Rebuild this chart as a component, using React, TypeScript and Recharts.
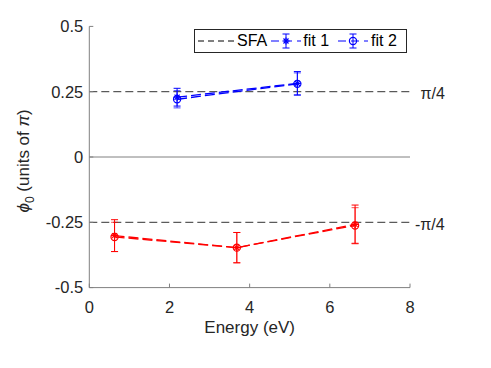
import React from 'react';
import {
  ComposedChart,
  Line,
  XAxis,
  YAxis,
  ErrorBar,
  ReferenceLine,
} from 'recharts';

/* ---------------------------------------
   DATA
---------------------------------------- */
// photon energy (eV)
const blueEnergy = [2.19, 5.19];
const redEnergy = [0.63, 3.68, 6.63];

// phi_0 (units of pi) and half-width of the error bars
const blueFit1 = [0.229, 0.282];
const blueFit1Err = [0.034, 0.045];
const blueFit2 = [0.221, 0.28];
const blueFit2Err = [0.033, 0.042];

const redFit1 = [-0.301, -0.347, -0.258];
const redFit1Err = [0.061, 0.058, 0.074];
const redFit2 = [-0.306, -0.347, -0.262];
const redFit2Err = [0.056, 0.058, 0.068];

// SFA reference values
const sfaLevels = [0.25, -0.25];
const sfaLabels = ['π/4', '-π/4'];

const xTicks = [0, 2, 4, 6, 8];
const yTicks = [-0.5, -0.25, 0, 0.25, 0.5];

const BLUE = '#0000ff';
const RED = '#ff0000';
const AXIS = '#808080';
const TEXT = '#262626';
const FONT = '"Liberation Sans", Arial, Helvetica, sans-serif';

const toRows = (xs: number[], ys: number[], errs: number[]) =>
  xs.map((e, i) => ({ e, phi: ys[i], err: errs[i] }));

const blue1 = toRows(blueEnergy, blueFit1, blueFit1Err);
const blue2 = toRows(blueEnergy, blueFit2, blueFit2Err);
const red1 = toRows(redEnergy, redFit1, redFit1Err);
const red2 = toRows(redEnergy, redFit2, redFit2Err);

/* ---------------------------------------
   MARKERS
---------------------------------------- */
const starDot = (color: string) => (props: any) => {
  const { cx, cy, index } = props;
  if (cx == null || cy == null) return <g key={`s${index}`} />;
  const r = 3.5;
  const d = r * 0.72;
  return (
    <g key={`s${index}`} stroke={color} strokeWidth={1.2}>
      <line x1={cx - r} y1={cy} x2={cx + r} y2={cy} />
      <line x1={cx} y1={cy - r} x2={cx} y2={cy + r} />
      <line x1={cx - d} y1={cy - d} x2={cx + d} y2={cy + d} />
      <line x1={cx - d} y1={cy + d} x2={cx + d} y2={cy - d} />
    </g>
  );
};

const circleDot = (color: string) => (props: any) => {
  const { cx, cy, index } = props;
  if (cx == null || cy == null) return <g key={`c${index}`} />;
  return (
    <circle
      key={`c${index}`}
      cx={cx}
      cy={cy}
      r={3.6}
      fill="none"
      stroke={color}
      strokeWidth={1.2}
    />
  );
};

/* ---------------------------------------
   LABELS
---------------------------------------- */
const YLabel = (props: any) => {
  const { viewBox } = props;
  const x = 29;
  const y = viewBox.y + viewBox.height / 2 + 4;
  return (
    <text
      x={x}
      y={y}
      transform={`rotate(-90, ${x}, ${y})`}
      textAnchor="middle"
      fontSize={17}
      fill={TEXT}
      fontFamily={FONT}
    >
      <tspan fontStyle="italic">ϕ</tspan>
      <tspan dy={5} fontSize={12}>
        0
      </tspan>
      <tspan dy={-5}> (units of </tspan>
      <tspan fontStyle="italic">π</tspan>
      <tspan>)</tspan>
    </text>
  );
};

const XLabel = (props: any) => {
  const { viewBox } = props;
  return (
    <text
      x={viewBox.x + viewBox.width / 2}
      y={viewBox.y + 45.7}
      textAnchor="middle"
      fontSize={17}
      fill={TEXT}
      fontFamily={FONT}
    >
      Energy (eV)
    </text>
  );
};

const sfaLabel = (text: string, gap: number) => (props: any) => {
  const { viewBox } = props;
  return (
    <text
      x={viewBox.x + viewBox.width + gap}
      y={viewBox.y + 2}
      dy="0.35em"
      fontSize={16}
      fill={TEXT}
      fontFamily={FONT}
    >
      {text}
    </text>
  );
};

/* ---------------------------------------
   LEGEND
---------------------------------------- */
const LegendIcon = ({ marker }: { marker: 'star' | 'circle' }) => (
  <svg width={30} height={22} style={{ display: 'block' }}>
    <line x1={0} y1={11} x2={30} y2={11} stroke={BLUE} strokeWidth={1} strokeDasharray="8 5" />
    <line x1={15} y1={4} x2={15} y2={18} stroke={BLUE} />
    <line x1={11.5} y1={4} x2={18.5} y2={4} stroke={BLUE} />
    <line x1={11.5} y1={18} x2={18.5} y2={18} stroke={BLUE} />
    {marker === 'star'
      ? starDot(BLUE)({ cx: 15, cy: 11, index: 0 })
      : circleDot(BLUE)({ cx: 15, cy: 11, index: 0 })}
  </svg>
);

function ChartLegend() {
  return (
    <div
      style={{
        position: 'absolute',
        left: 194,
        top: 29,
        width: 211,
        height: 22,
        border: `1px solid ${TEXT}`,
        background: '#fff',
        display: 'flex',
        alignItems: 'center',
        fontSize: 16,
        color: '#000',
        fontFamily: FONT,
        lineHeight: '22px',
      }}
    >
      <svg width={38} height={22} style={{ display: 'block', marginLeft: 3 }}>
        <line x1={0} y1={11} x2={38} y2={11} stroke="#000" strokeDasharray="6 4" />
      </svg>
      <span style={{ marginLeft: 1 }}>SFA</span>
      <span style={{ marginLeft: 4 }}>
        <LegendIcon marker="star" />
      </span>
      <span style={{ marginLeft: 2 }}>fit 1</span>
      <span style={{ marginLeft: 9 }}>
        <LegendIcon marker="circle" />
      </span>
      <span style={{ marginLeft: 3 }}>fit 2</span>
    </div>
  );
}

/* ---------------------------------------
   MAIN COMPONENT
---------------------------------------- */
export default function App() {
  const tickStyle = { fill: TEXT, fontSize: 16.5, fontFamily: FONT };

  return (
    <div
      style={{
        position: 'absolute',
        left: 0,
        top: 0,
        width: 491,
        height: 368,
        background: '#fff',
        fontFamily: FONT,
      }}
    >
      <ComposedChart
        width={491}
        height={368}
        margin={{ top: 26.4, right: 81, bottom: 0, left: 0 }}
      >
        <XAxis
          dataKey="e"
          type="number"
          domain={[0, 8]}
          ticks={xTicks}
          allowDataOverflow
          height={80.4}
          stroke={AXIS}
          tickSize={-4}
          tickMargin={18}
          tick={tickStyle}
          label={<XLabel />}
        />
        <XAxis
          xAxisId="top"
          orientation="top"
          type="number"
          domain={[0, 8]}
          ticks={xTicks}
          allowDataOverflow
          height={0}
          stroke={AXIS}
          tickSize={-4}
          tick={false}
        />
        <YAxis
          type="number"
          domain={[-0.5, 0.5]}
          ticks={yTicks}
          allowDataOverflow
          width={89.3}
          stroke={AXIS}
          tickSize={-4}
          tickMargin={10}
          tick={tickStyle}
          label={<YLabel />}
        />
        <YAxis
          yAxisId="right"
          orientation="right"
          type="number"
          domain={[-0.5, 0.5]}
          ticks={yTicks}
          allowDataOverflow
          width={0}
          stroke={AXIS}
          tickSize={-4}
          tick={false}
        />

        {/* zero line between upper and lower panel */}
        <ReferenceLine y={0} stroke={AXIS} strokeWidth={1} />

        {/* SFA values */}
        {sfaLevels.map((v, i) => (
          <ReferenceLine
            key={v}
            y={v}
            stroke="#333"
            strokeWidth={1}
            strokeDasharray="8 4"
            label={sfaLabel(sfaLabels[i], i === 0 ? 10.5 : 5)}
          />
        ))}

        {/* Red set */}
        <Line
          data={red1}
          dataKey="phi"
          stroke={RED}
          strokeWidth={1.3}
          strokeDasharray="10 4"
          dot={starDot(RED)}
          isAnimationActive={false}
        >
          <ErrorBar dataKey="err" width={3.5} stroke={RED} strokeWidth={1} />
        </Line>
        <Line
          data={red2}
          dataKey="phi"
          stroke={RED}
          strokeWidth={1.3}
          strokeDasharray="10 4"
          dot={circleDot(RED)}
          isAnimationActive={false}
        >
          <ErrorBar dataKey="err" width={3.5} stroke={RED} strokeWidth={1} strokeOpacity={0.7} />
        </Line>

        {/* Blue set */}
        <Line
          data={blue1}
          dataKey="phi"
          stroke={BLUE}
          strokeWidth={1.3}
          strokeDasharray="10 4"
          dot={starDot(BLUE)}
          isAnimationActive={false}
        >
          <ErrorBar dataKey="err" width={3.5} stroke={BLUE} strokeWidth={1} />
        </Line>
        <Line
          data={blue2}
          dataKey="phi"
          stroke={BLUE}
          strokeWidth={1.3}
          strokeDasharray="10 4"
          dot={circleDot(BLUE)}
          isAnimationActive={false}
        >
          <ErrorBar dataKey="err" width={3.5} stroke={BLUE} strokeWidth={1} strokeOpacity={0.7} />
        </Line>
      </ComposedChart>
      <ChartLegend />
    </div>
  );
}
